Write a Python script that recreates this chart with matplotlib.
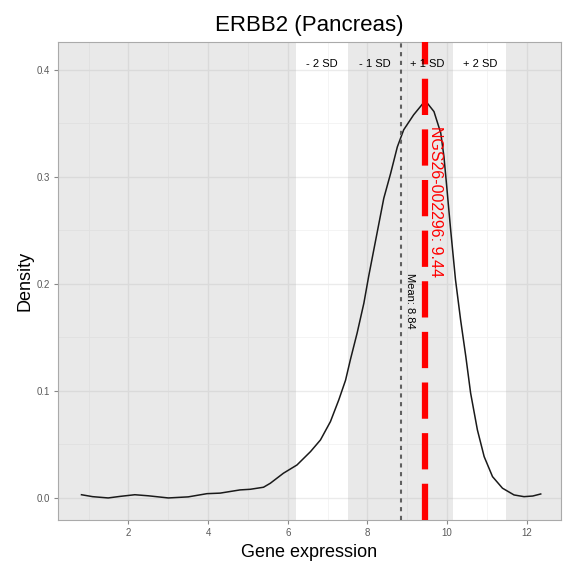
import matplotlib.pyplot as plt
from matplotlib.ticker import MultipleLocator

plt.rcParams['font.family'] = ['Liberation Sans', 'DejaVu Sans']

# density curve
expr = [0.82, 1.1, 1.49, 1.8, 2.16, 2.5, 3.0, 3.5, 3.97, 4.3, 4.8, 5.06, 5.39,
        5.56, 5.89, 6.23, 6.57, 6.82, 7.07, 7.28, 7.45, 7.57, 7.74, 7.91, 8.03,
        8.16, 8.41, 8.58, 8.75, 8.91, 9.16, 9.38, 9.50, 9.67, 9.84, 9.92, 9.99,
        10.09, 10.21, 10.34, 10.47, 10.59, 10.76, 10.93, 11.14, 11.39, 11.68,
        11.93, 12.15, 12.35]
dens = [0.003, 0.0012, 0.0, 0.0015, 0.003, 0.002, 0.0, 0.001, 0.004, 0.0045,
        0.0075, 0.0081, 0.0100, 0.0137, 0.0231, 0.0308, 0.0433, 0.0542, 0.0713,
        0.0916, 0.110, 0.129, 0.154, 0.182, 0.207, 0.232, 0.280, 0.303, 0.328,
        0.344, 0.358, 0.368, 0.369, 0.361, 0.341, 0.319, 0.291, 0.250, 0.204,
        0.166, 0.132, 0.098, 0.0636, 0.0386, 0.0199, 0.0091, 0.0028, 0.0012,
        0.0018, 0.0037]

mean_val = 8.84
sd_val = 1.32
sample_name = "NGS26-002296"
sample_val = 9.44
sd_labels = ["- 2 SD", "- 1 SD", "+ 1 SD", "+ 2 SD"]
sd_label_pos = [-1.5, -0.5, 0.5, 1.5]

fig = plt.figure(figsize=(5.63, 5.61), dpi=100)
ax = fig.add_axes([0.103, 0.0731, 0.8935, 0.852])
xmin, xmax = 0.23, 12.86
ax.set_xlim(xmin, xmax)
ax.set_ylim(-0.0206, 0.426)
ax.set_facecolor('white')

# grid
ax.xaxis.set_major_locator(MultipleLocator(2))
ax.xaxis.set_minor_locator(MultipleLocator(1))
ax.yaxis.set_major_locator(MultipleLocator(0.1))
ax.yaxis.set_minor_locator(MultipleLocator(0.05))
ax.grid(which='major', color='#EBEBEB', lw=1.0, zorder=0)
ax.grid(which='minor', color='#F3F3F3', lw=0.6, zorder=0)
ax.set_axisbelow(True)

# shaded zones (outside 2SD and within 1SD)
shade = dict(color='#B0B0B0', alpha=0.28, lw=0, zorder=1)
ax.axvspan(xmin, mean_val - 2 * sd_val, **shade)
ax.axvspan(mean_val - sd_val, mean_val + sd_val, **shade)
ax.axvspan(mean_val + 2 * sd_val, xmax, **shade)

ax.plot(expr, dens, color='#1a1a1a', lw=1.1, zorder=3, solid_joinstyle='round')

# mean line
ax.axvline(mean_val, color='#606060', lw=1.5, ls=(0, (2.0, 2.2)), zorder=4)
ax.text(mean_val + 0.22, 0.184, f"Mean: {mean_val}", rotation=-90,
        ha='center', va='center', fontsize=8, color='black', zorder=5)

# sample line
ax.axvline(sample_val, color='red', lw=4.5, ls=(0, (5.8, 2.3)), zorder=4)
ax.text(sample_val + 0.27, 0.277, f"{sample_name}: {sample_val}", rotation=-90,
        ha='center', va='center', fontsize=11.5, color='red', zorder=5)

for lab, k in zip(sd_labels, sd_label_pos):
    ax.text(mean_val + k * sd_val, 0.405, lab, ha='center', va='center',
            fontsize=8, color='black', zorder=5)

for s in ax.spines.values():
    s.set_color('#AAAAAA')
    s.set_linewidth(0.8)
ax.tick_params(which='major', length=3, color='#888888', labelsize=7,
               labelcolor='#5a5a5a', pad=3)
ax.tick_params(which='minor', length=0)
ax.set_xticks([2, 4, 6, 8, 10, 12])
ax.set_yticks([0.0, 0.1, 0.2, 0.3, 0.4])
ax.set_yticklabels(["0.0", "0.1", "0.2", "0.3", "0.4"])

ax.set_xlabel("Gene expression", fontsize=13, labelpad=4)
ax.set_ylabel("Density", fontsize=13, labelpad=2)
ax.set_title("ERBB2 (Pancreas)", fontsize=16, pad=8)

fig.savefig("out.png", dpi=100)
